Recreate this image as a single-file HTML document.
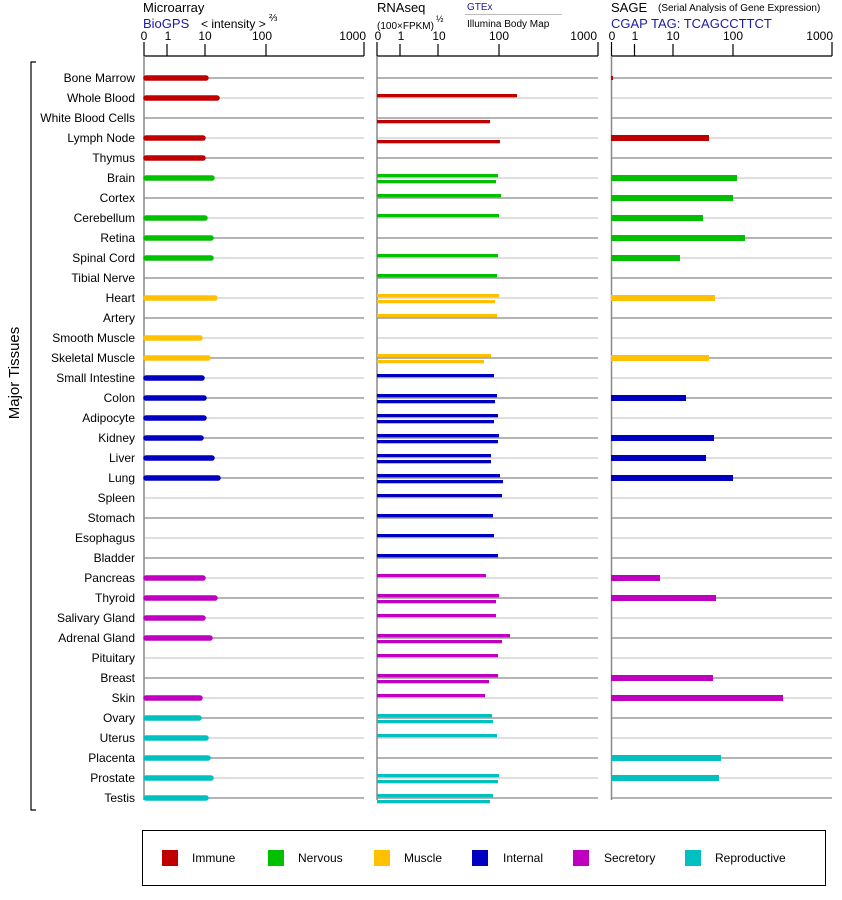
<!DOCTYPE html>
<html><head><meta charset="utf-8"><style>
html,body{margin:0;padding:0;background:#fff}
svg{display:block;font-family:"Liberation Sans",Arial,sans-serif}
</style></head><body>
<svg width="842" height="900" viewBox="0 0 842 900" xmlns="http://www.w3.org/2000/svg">
<!-- headers -->
<text x="143" y="12" font-size="13">Microarray</text>
<text x="143" y="28" font-size="13" fill="#1a1aa8">BioGPS</text>
<text x="201" y="28" font-size="12">&lt; intensity &gt;</text>
<text x="269" y="21" font-size="10">⅔</text>
<text x="377" y="12" font-size="13">RNAseq</text>
<text x="377" y="29" font-size="10">(100×FPKM)</text>
<text x="436" y="22" font-size="9">½</text>
<text x="467" y="10" font-size="10" fill="#1a1aa8">GTEx</text>
<line x1="465" y1="14.5" x2="562" y2="14.5" stroke="#bbb"/>
<text x="467" y="27" font-size="10">Illumina Body Map</text>
<text x="611" y="12" font-size="13">SAGE</text>
<text x="658" y="11" font-size="10">(Serial Analysis of Gene Expression)</text>
<text x="611" y="28" font-size="13" fill="#1a1aa8">CGAP TAG: TCAGCCTTCT</text>

<!-- axes -->
<g stroke="#000" stroke-width="1.2" fill="none">
<path d="M144 42V56H364M167 44V56M205 44V56M266 44V56M364 42V56"/>
<path d="M377 42V56H598M400 44V56M438 44V56M499 44V56M598 42V56"/>
<path d="M611.5 42V56H832M634.5 44V56M673 44V56M733 44V56M832 42V56"/>
</g>
<g font-size="12" text-anchor="middle">
<text x="144" y="40">0</text><text x="168" y="40">1</text><text x="205" y="40">10</text><text x="262" y="40">100</text><text x="366" y="40" text-anchor="end">1000</text>
<text x="378" y="40">0</text><text x="401" y="40">1</text><text x="439" y="40">10</text><text x="499" y="40">100</text><text x="597" y="40" text-anchor="end">1000</text>
<text x="612" y="40">0</text><text x="635" y="40">1</text><text x="673" y="40">10</text><text x="733" y="40">100</text><text x="833" y="40" text-anchor="end">1000</text>
</g>

<!-- gridlines -->
<g id="grid">
<g stroke="#888" stroke-width="1.3">
<path d="M144 78H364M377 78H598M611 78H832"/>
<path d="M144 118H364M377 118H598M611 118H832"/>
<path d="M144 158H364M377 158H598M611 158H832"/>
<path d="M144 198H364M377 198H598M611 198H832"/>
<path d="M144 238H364M377 238H598M611 238H832"/>
<path d="M144 278H364M377 278H598M611 278H832"/>
<path d="M144 318H364M377 318H598M611 318H832"/>
<path d="M144 358H364M377 358H598M611 358H832"/>
<path d="M144 398H364M377 398H598M611 398H832"/>
<path d="M144 438H364M377 438H598M611 438H832"/>
<path d="M144 478H364M377 478H598M611 478H832"/>
<path d="M144 518H364M377 518H598M611 518H832"/>
<path d="M144 558H364M377 558H598M611 558H832"/>
<path d="M144 598H364M377 598H598M611 598H832"/>
<path d="M144 638H364M377 638H598M611 638H832"/>
<path d="M144 678H364M377 678H598M611 678H832"/>
<path d="M144 718H364M377 718H598M611 718H832"/>
<path d="M144 758H364M377 758H598M611 758H832"/>
<path d="M144 798H364M377 798H598M611 798H832"/>
</g>
<g stroke="#ccc" stroke-width="1.3">
<path d="M144 98H364M377 98H598M611 98H832"/>
<path d="M144 138H364M377 138H598M611 138H832"/>
<path d="M144 178H364M377 178H598M611 178H832"/>
<path d="M144 218H364M377 218H598M611 218H832"/>
<path d="M144 258H364M377 258H598M611 258H832"/>
<path d="M144 298H364M377 298H598M611 298H832"/>
<path d="M144 338H364M377 338H598M611 338H832"/>
<path d="M144 378H364M377 378H598M611 378H832"/>
<path d="M144 418H364M377 418H598M611 418H832"/>
<path d="M144 458H364M377 458H598M611 458H832"/>
<path d="M144 498H364M377 498H598M611 498H832"/>
<path d="M144 538H364M377 538H598M611 538H832"/>
<path d="M144 578H364M377 578H598M611 578H832"/>
<path d="M144 618H364M377 618H598M611 618H832"/>
<path d="M144 658H364M377 658H598M611 658H832"/>
<path d="M144 698H364M377 698H598M611 698H832"/>
<path d="M144 738H364M377 738H598M611 738H832"/>
<path d="M144 778H364M377 778H598M611 778H832"/>
</g>
</g>
<g stroke="#888" stroke-width="1.5">
<path d="M144 56V800M377 56V800M611.5 56V800"/>
</g>

<!-- labels -->
<g font-size="12" text-anchor="end">
<text x="135" y="82">Bone Marrow</text><text x="135" y="102">Whole Blood</text><text x="135" y="122">White Blood Cells</text><text x="135" y="142">Lymph Node</text><text x="135" y="162">Thymus</text>
<text x="135" y="182">Brain</text><text x="135" y="202">Cortex</text><text x="135" y="222">Cerebellum</text><text x="135" y="242">Retina</text><text x="135" y="262">Spinal Cord</text><text x="135" y="282">Tibial Nerve</text>
<text x="135" y="302">Heart</text><text x="135" y="322">Artery</text><text x="135" y="342">Smooth Muscle</text><text x="135" y="362">Skeletal Muscle</text>
<text x="135" y="382">Small Intestine</text><text x="135" y="402">Colon</text><text x="135" y="422">Adipocyte</text><text x="135" y="442">Kidney</text><text x="135" y="462">Liver</text><text x="135" y="482">Lung</text><text x="135" y="502">Spleen</text><text x="135" y="522">Stomach</text><text x="135" y="542">Esophagus</text><text x="135" y="562">Bladder</text>
<text x="135" y="582">Pancreas</text><text x="135" y="602">Thyroid</text><text x="135" y="622">Salivary Gland</text><text x="135" y="642">Adrenal Gland</text><text x="135" y="662">Pituitary</text><text x="135" y="682">Breast</text><text x="135" y="702">Skin</text>
<text x="135" y="722">Ovary</text><text x="135" y="742">Uterus</text><text x="135" y="762">Placenta</text><text x="135" y="782">Prostate</text><text x="135" y="802">Testis</text>
</g>
<path d="M36 62H31V810H36" stroke="#000" stroke-width="1.2" fill="none"/>
<text x="0" y="0" font-size="15" text-anchor="middle" transform="translate(19,373) rotate(-90)">Major Tissues</text>

<!-- microarray bars -->
<g stroke-width="5.5" stroke-linecap="round" fill="none">
<path stroke="#c00000" d="M146 78H206M146 98H217M146 138H203M146 158H203"/>
<path stroke="#00c000" d="M146 178H212M146 218H205M146 238H211M146 258H211"/>
<path stroke="#ffc000" d="M146 298H215M146 338H200M146 358H208"/>
<path stroke="#0000c0" d="M146 378H202M146 398H204M146 418H204M146 438H201M146 458H212M146 478H218"/>
<path stroke="#c000c0" d="M146 578H203M146 598H215M146 618H203M146 638H210M146 698H200"/>
<path stroke="#00c0c0" d="M146 718H199M146 738H206M146 758H208M146 778H211M146 798H206"/>
</g>

<!-- RNAseq bars -->
<g>
<g fill="#c00000"><rect x="377" y="94" width="140" height="3.3"/><rect x="377" y="120" width="113" height="3.3"/><rect x="377" y="140" width="123" height="3.3"/></g>
<g fill="#00c000"><rect x="377" y="174" width="121" height="3.3"/><rect x="377" y="180" width="119" height="3.3"/><rect x="377" y="194" width="124" height="3.3"/><rect x="377" y="214" width="122" height="3.3"/><rect x="377" y="254" width="121" height="3.3"/><rect x="377" y="274" width="120" height="3.3"/></g>
<g fill="#ffc000"><rect x="377" y="294" width="122" height="3.3"/><rect x="377" y="300" width="118" height="3.3"/><rect x="377" y="314" width="120" height="3.3"/><rect x="377" y="354" width="114" height="3.3"/><rect x="377" y="360" width="107" height="3.3"/></g>
<g fill="#0000c0"><rect x="377" y="374" width="117" height="3.3"/><rect x="377" y="394" width="120" height="3.3"/><rect x="377" y="400" width="118" height="3.3"/><rect x="377" y="414" width="121" height="3.3"/><rect x="377" y="420" width="117" height="3.3"/><rect x="377" y="434" width="122" height="3.3"/><rect x="377" y="440" width="121" height="3.3"/><rect x="377" y="454" width="114" height="3.3"/><rect x="377" y="460" width="114" height="3.3"/><rect x="377" y="474" width="123" height="3.3"/><rect x="377" y="480" width="126" height="3.3"/><rect x="377" y="494" width="125" height="3.3"/><rect x="377" y="514" width="116" height="3.3"/><rect x="377" y="534" width="117" height="3.3"/><rect x="377" y="554" width="121" height="3.3"/></g>
<g fill="#c000c0"><rect x="377" y="574" width="109" height="3.3"/><rect x="377" y="594" width="122" height="3.3"/><rect x="377" y="600" width="119" height="3.3"/><rect x="377" y="614" width="119" height="3.3"/><rect x="377" y="634" width="133" height="3.3"/><rect x="377" y="640" width="125" height="3.3"/><rect x="377" y="654" width="121" height="3.3"/><rect x="377" y="674" width="121" height="3.3"/><rect x="377" y="680" width="112" height="3.3"/><rect x="377" y="694" width="108" height="3.3"/></g>
<g fill="#00c0c0"><rect x="377" y="714" width="115" height="3.3"/><rect x="377" y="720" width="116" height="3.3"/><rect x="377" y="734" width="120" height="3.3"/><rect x="377" y="774" width="122" height="3.3"/><rect x="377" y="780" width="121" height="3.3"/><rect x="377" y="794" width="116" height="3.3"/><rect x="377" y="800" width="113" height="3.3"/></g>
</g>

<!-- SAGE bars -->
<g>
<rect x="611" y="76" width="2" height="4" fill="#c00000"/>
<g fill="#c00000"><rect x="611" y="135" width="98" height="6"/></g>
<g fill="#00c000"><rect x="611" y="175" width="126" height="6"/><rect x="611" y="195" width="122" height="6"/><rect x="611" y="215" width="92" height="6"/><rect x="611" y="235" width="134" height="6"/><rect x="611" y="255" width="69" height="6"/></g>
<g fill="#ffc000"><rect x="611" y="295" width="104" height="6"/><rect x="611" y="355" width="98" height="6"/></g>
<g fill="#0000c0"><rect x="611" y="395" width="75" height="6"/><rect x="611" y="435" width="103" height="6"/><rect x="611" y="455" width="95" height="6"/><rect x="611" y="475" width="122" height="6"/></g>
<g fill="#c000c0"><rect x="611" y="575" width="49" height="6"/><rect x="611" y="595" width="105" height="6"/><rect x="611" y="675" width="102" height="6"/><rect x="611" y="695" width="172" height="6"/></g>
<g fill="#00c0c0"><rect x="611" y="755" width="110" height="6"/><rect x="611" y="775" width="108" height="6"/></g>
</g>

<!-- legend -->
<rect x="142.5" y="830.5" width="683" height="55" fill="none" stroke="#000" stroke-width="1"/>
<g font-size="12">
<rect x="162" y="850" width="16" height="16" fill="#c00000"/><text x="192" y="862">Immune</text>
<rect x="268" y="850" width="16" height="16" fill="#00c000"/><text x="298" y="862">Nervous</text>
<rect x="374" y="850" width="16" height="16" fill="#ffc000"/><text x="404" y="862">Muscle</text>
<rect x="472" y="850" width="16" height="16" fill="#0000c0"/><text x="503" y="862">Internal</text>
<rect x="573" y="850" width="16" height="16" fill="#c000c0"/><text x="604" y="862">Secretory</text>
<rect x="685" y="850" width="16" height="16" fill="#00c0c0"/><text x="715" y="862">Reproductive</text>
</g>
</svg>
</body></html>
